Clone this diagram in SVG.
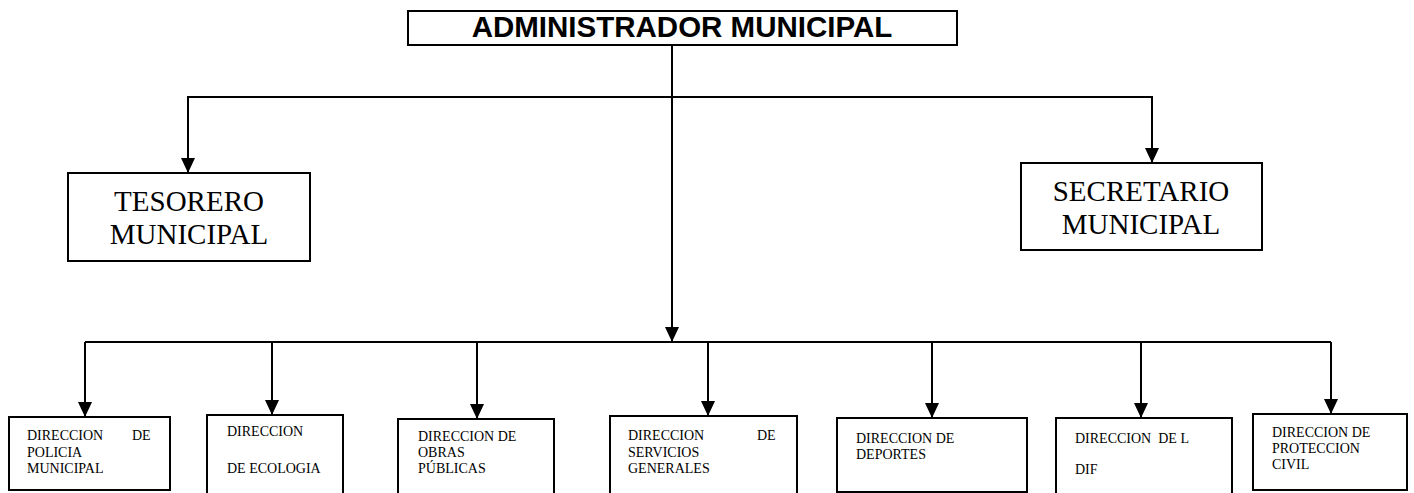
<svg xmlns="http://www.w3.org/2000/svg" width="1414" height="493" viewBox="0 0 1414 493">
<style>
.box{fill:#fff;stroke:#000;stroke-width:2}
.ln{fill:none;stroke:#000;stroke-width:2}
.big{font-family:"Liberation Serif","Times New Roman",serif;font-size:29px;fill:#000}
.sm{font-family:"Liberation Serif","Times New Roman",serif;font-size:14px;fill:#000}
.title{font-family:"Liberation Sans",Arial,sans-serif;font-weight:bold;font-size:29.5px;fill:#000}
</style>
<defs>
<marker id="ah" markerWidth="14" markerHeight="15" refX="7" refY="15" orient="0" markerUnits="userSpaceOnUse">
<path d="M0,0 L14,0 L7,15 Z" fill="#000"/>
</marker>
</defs>
<rect width="1414" height="493" fill="#fff"/>
<g id="connectors">
<path class="ln" d="M672,45 V342" marker-end="url(#ah)"/>
<path class="ln" d="M672,97 H188 V173" marker-end="url(#ah)"/>
<path class="ln" d="M672,97 H1152 V163" marker-end="url(#ah)"/>
<path class="ln" d="M85,342 H1331"/>
<path class="ln" d="M85,342 V417" marker-end="url(#ah)"/>
<path class="ln" d="M272,342 V415" marker-end="url(#ah)"/>
<path class="ln" d="M477,342 V419" marker-end="url(#ah)"/>
<path class="ln" d="M708,342 V416" marker-end="url(#ah)"/>
<path class="ln" d="M932,342 V418" marker-end="url(#ah)"/>
<path class="ln" d="M1141,342 V418" marker-end="url(#ah)"/>
<path class="ln" d="M1331,342 V414" marker-end="url(#ah)"/>
</g>
<g id="admin">
<rect class="box" x="408" y="11" width="549" height="34"/>
<text class="title" x="682" y="37" text-anchor="middle">ADMINISTRADOR MUNICIPAL</text>
</g>
<g id="tesorero">
<rect class="box" x="68" y="173" width="242" height="88"/>
<text class="big" x="189" y="211" text-anchor="middle">TESORERO</text>
<text class="big" x="189" y="244" text-anchor="middle">MUNICIPAL</text>
</g>
<g id="secretario">
<rect class="box" x="1021" y="163" width="241" height="87"/>
<text class="big" x="1141" y="201" text-anchor="middle">SECRETARIO</text>
<text class="big" x="1141" y="234" text-anchor="middle">MUNICIPAL</text>
</g>
<g id="policia">
<rect class="box" x="9" y="417" width="161" height="73"/>
<text class="sm" y="440"><tspan x="27">DIRECCION</tspan> <tspan x="132">DE</tspan></text>
<text class="sm" x="27" y="457">POLICIA</text>
<text class="sm" x="27" y="473">MUNICIPAL</text>
</g>
<g id="ecologia">
<rect class="box" x="207" y="415" width="136" height="90"/>
<text class="sm" x="227" y="436">DIRECCION</text>
<text class="sm" x="227" y="473">DE ECOLOGIA</text>
</g>
<g id="obras">
<rect class="box" x="398" y="419" width="156" height="90"/>
<text class="sm" x="418" y="441">DIRECCION DE</text>
<text class="sm" x="418" y="457">OBRAS</text>
<text class="sm" x="418" y="473">PÚBLICAS</text>
</g>
<g id="servicios">
<rect class="box" x="610" y="416" width="187" height="90"/>
<text class="sm" y="440"><tspan x="628">DIRECCION</tspan> <tspan x="757">DE</tspan></text>
<text class="sm" x="628" y="457">SERVICIOS</text>
<text class="sm" x="628" y="473">GENERALES</text>
</g>
<g id="deportes">
<rect class="box" x="837" y="418" width="190" height="74"/>
<text class="sm" x="856" y="443">DIRECCION DE</text>
<text class="sm" x="856" y="459">DEPORTES</text>
</g>
<g id="dif">
<rect class="box" x="1056" y="418" width="176" height="90"/>
<text class="sm" x="1075" y="443" xml:space="preserve">DIRECCION  DE L</text>
<text class="sm" x="1075" y="474">DIF</text>
</g>
<g id="proteccion">
<rect class="box" x="1253" y="414" width="154" height="76"/>
<text class="sm" x="1272" y="437">DIRECCION DE</text>
<text class="sm" x="1272" y="453">PROTECCION</text>
<text class="sm" x="1272" y="469">CIVIL</text>
</g>
</svg>
